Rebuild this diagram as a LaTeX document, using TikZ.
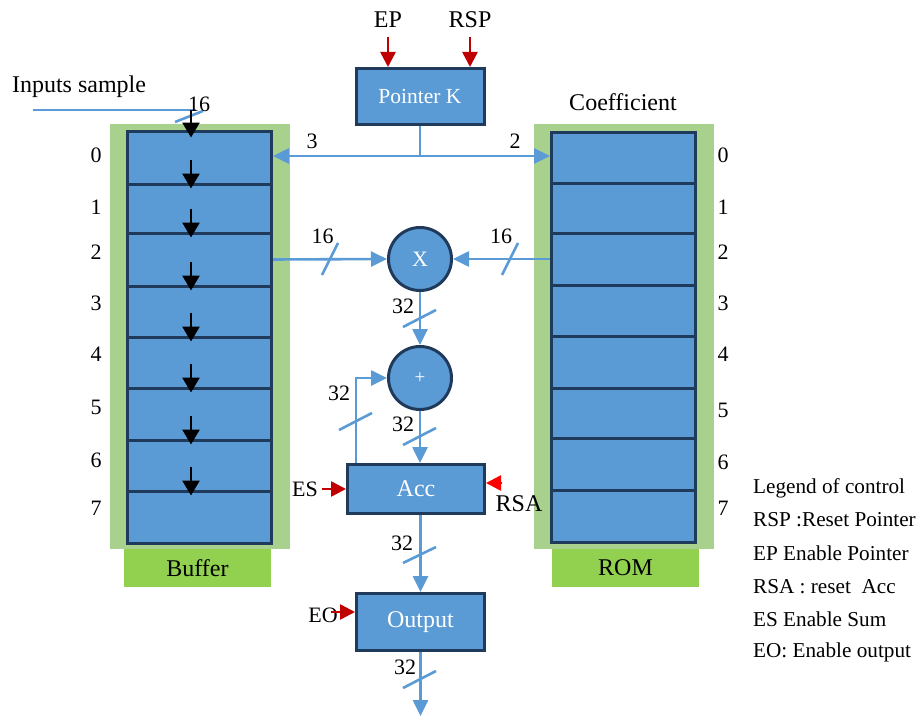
\documentclass[tikz,border=0pt]{standalone}
\usepackage{fontspec}
\setmainfont{Liberation Serif}
\usetikzlibrary{arrows.meta,calc}
\definecolor{cellblue}{HTML}{5B9BD5}
\definecolor{celledge}{HTML}{203A5C}
\definecolor{wireblue}{HTML}{5B9BD5}
\definecolor{panel}{HTML}{A9D18E}
\definecolor{tag}{HTML}{92D050}
\definecolor{ctrl}{HTML}{C00000}
\definecolor{ctrlhot}{HTML}{FF0000}

\begin{document}
\begin{tikzpicture}[x=1pt,y=-1pt,
  lbl/.style={font=\fontsize{24}{28}\selectfont, inner sep=0pt},
  num/.style={font=\fontsize{22}{26}\selectfont, inner sep=0pt},
  legendtxt/.style={font=\fontsize{21.2}{25}\selectfont, inner sep=0pt, anchor=west},
  unit/.style={draw=celledge, line width=3pt, fill=cellblue, text=white,
    font=\fontsize{24}{28}\selectfont, inner sep=0pt},
  cell/.style={draw=celledge, line width=3pt, fill=cellblue, minimum width=144pt, inner sep=0pt},
  op/.style={circle, draw=celledge, line width=3pt, fill=cellblue, text=white,
    minimum size=63pt, inner sep=0pt, font=\fontsize{22}{26}\selectfont},
  wire/.style={draw=wireblue, line width=2.6pt},
  bus/.style={wire, -{Triangle[length=16pt,width=15pt]}},
  ctl/.style={draw=ctrl, line width=2.6pt, -{Triangle[length=15pt,width=15pt]}},
  ctlhot/.style={draw=ctrlhot, line width=2.6pt, -{Triangle[length=15pt,width=15pt]}},
  shiftarrow/.style={draw=black, line width=2.8pt, -{Triangle[length=15pt,width=17pt]}},
  tick/.style={draw=wireblue, line width=2.6pt},
  panelbox/.style={fill=panel, inner sep=0pt, minimum width=180pt, minimum height=425pt},
  tagbox/.style={fill=tag, inner sep=0pt, minimum width=147pt, minimum height=38pt,
    font=\fontsize{24}{28}\selectfont}
]
\useasboundingbox (0,0) rectangle (919,717);

% green panels and name tags
\node[panelbox] (bufpanel) at (200,336.5) {};
\node[panelbox] (rompanel) at (624,336.5) {};
\node[tagbox] (buftag) at (197.5,568) {Buffer};
\node[tagbox] (romtag) at (625.5,568) {ROM};

% buffer registers
\foreach \i/\t/\b in {0/131/184,1/184/233,2/233/286,3/286/337,4/337/388,5/388/440,6/440/491,7/491/543}
  \node[cell, minimum height={\b-\t}] (buf\i) at (199.5,{(\t+\b)/2}) {};
% coefficient ROM
\foreach \i/\t/\b in {0/132/183,1/183/233,2/233/285,3/285/336,4/336/388,5/388/438,6/438/490,7/490/542}
  \node[cell, minimum height={\b-\t}] (rom\i) at (623.5,{(\t+\b)/2}) {};

% index labels
\foreach \i/\y in {0/155,1/207,2/252,3/303,4/354,5/407,6/460,7/508}
  \node[num] (bufidx\i) at (96,\y) {\i};
\foreach \i/\y in {0/155,1/207,2/252,3/303,4/354,5/410,6/462,7/508}
  \node[num] (romidx\i) at (723,\y) {\i};

% datapath units
\node[unit, minimum width=128pt, minimum height=56pt, font=\fontsize{21.5}{25}\selectfont] (ptr) at (420,96.5) {Pointer K};
\node[op] (mul) at (420,259) {X};
\node[op, font=\fontsize{19}{22}\selectfont] (add) at (420,378) {+};
\node[unit, minimum width=137pt, minimum height=49pt] (acc) at (416,489) {Acc};
\node[unit, minimum width=128pt, minimum height=57pt] (out) at (420.5,622) {Output};

% texts
\node[lbl] (intext) at (79,87) {Inputs sample};
\node[lbl] (coeftext) at (623,102) {Coefficient};
\node[lbl] (ep) at (388,20) {EP};
\node[lbl] (rsp) at (470,20) {RSP};
\node[num] (es) at (305,489) {ES};
\node[lbl] (rsa) at (519,504) {RSA};
\node[num] (eo) at (323,615) {EO};

% pointer distribution
\draw[wire] (ptr.south) -- ++(0,30) coordinate (pj);
\draw[bus] (pj) -- (pj -| buf0.east);
\draw[bus] (pj) -- (pj -| rom0.west);
\node[num] (w3) at (312,141) {3};
\node[num] (w2) at (515,141) {2};

% sample input and shift chain
\coordinate (src) at (33,110);
\coordinate (inj) at (191,110);
\draw[wire] (src) -- ([xshift=5pt]inj);
\draw[tick] (175,122) -- (203,111);
\node[num] (w16in) at (199,104) {16};
\draw[shiftarrow] (inj) -- ([xshift=-8.5pt,yshift=-8pt]buf0.north);
\foreach \i in {1,...,7}
  \draw[shiftarrow] ([xshift=-8.5pt,yshift=23pt]buf\i.north) -- ([xshift=-8.5pt,yshift=-6pt]buf\i.north);

% multiplier inputs
\draw[bus] (buf2.east) -- (mul.west);
\draw[bus] (rom2.west) -- (mul.east);
\draw[tick] (322,275) -- (338,243);
\draw[tick] (502,275) -- (518,243);
\node[num] (w16a) at (322.5,236) {16};
\node[num] (w16b) at (501,236) {16};

% product to adder
\draw[bus] (mul.south) -- (add.north);
\draw[tick] (403,327) -- (436,310);
\node[num] (w32a) at (403,306) {32};

% sum to accumulator
\draw[bus] (add.south) -- (add.south |- acc.north);
\draw[tick] (403,445) -- (436,428);
\node[num] (w32b) at (403,424) {32};

% accumulator feedback
\coordinate (fbx) at (356,0);
\draw[bus] (acc.north -| fbx) |- (add.west);
\draw[tick] (339,430) -- (372,413);
\node[num] (w32c) at (339,393) {32};

% accumulator to output
\draw[bus] (out.north |- acc.south) -- (out.north);
\draw[tick] (403,563) -- (436,547);
\node[num] (w32d) at (402,543) {32};

% output bus
\coordinate (sink) at (420.5,716);
\draw[bus] (out.south) -- (sink);
\draw[tick] (403,688) -- (436,671);
\node[num] (w32e) at (405,667) {32};

% control signals
\draw[ctl] (ep.south |- 0,37) -- (ep.south |- ptr.north);
\draw[ctl] (rsp.south |- 0,37) -- (rsp.south |- ptr.north);
\draw[ctl] (322,489) -- (acc.west);
\coordinate (rsain) at (502,483);
\draw[ctlhot] (rsain) -- (rsain -| acc.east);
\coordinate (eoin) at (331,612);
\draw[ctl] (eoin) -- (eoin -| out.west);

% legend
\node[legendtxt] (lg0) at (753,488) {Legend of control};
\node[legendtxt] (lg1) at (753,520) {RSP :Reset Pointer};
\node[legendtxt] (lg2) at (753,553) {EP Enable Pointer};
\node[legendtxt] (lg3) at (753,587) {RSA : reset\ \ Acc};
\node[legendtxt] (lg4) at (753,619) {ES Enable Sum};
\node[legendtxt] (lg5) at (753,652) {EO: Enable output};
\end{tikzpicture}
\end{document}
